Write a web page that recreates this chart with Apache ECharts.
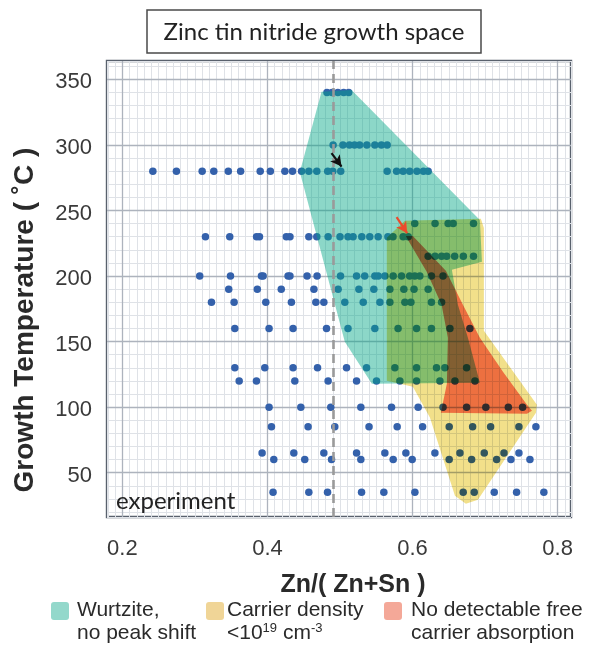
<!DOCTYPE html>
<html>
<head>
<meta charset="utf-8">
<script src="https://cdn.jsdelivr.net/npm/echarts@6/dist/echarts.min.js"></script>
<style>
  html, body { margin: 0; padding: 0; background: #fff; }
  #main { width: 591px; height: 651px; background: #fff; }
  /* overlap layers multiply like the printed figure */
  #main canvas[data-zr-dom-id="zr_2"], #main canvas[data-zr-dom-id="zr_3"] { mix-blend-mode: multiply; }
</style>
</head>
<body>
<div id="main"></div>
<script>
// growth runs: one row per temperature, Zn/(Zn+Sn) of each film
const rowTemps = [340, 300, 280, 240, 230, 215, 200, 190, 180, 160, 130, 120, 100, 85, 65, 60, 35]
const rowComps = [
  [0.482, 0.489, 0.497, 0.505, 0.512],
  [0.4905, 0.504, 0.513, 0.520, 0.527, 0.537, 0.548, 0.557, 0.565],
  [0.242, 0.2745, 0.310, 0.326, 0.346, 0.363, 0.390, 0.404, 0.424, 0.4345, 0.447, 0.457, 0.468, 0.483, 0.490, 0.501,
   0.565, 0.578, 0.587, 0.596, 0.606, 0.615, 0.6215],
  [0.603, 0.631, 0.649, 0.656, 0.684],
  [0.3145, 0.348, 0.385, 0.389, 0.426, 0.431, 0.457, 0.468, 0.4836, 0.500, 0.511, 0.518, 0.530, 0.541, 0.5526,
   0.566, 0.573, 0.587, 0.594],
  [0.6215, 0.631, 0.640, 0.647, 0.658, 0.670, 0.684],
  [0.3066, 0.349, 0.3917, 0.394, 0.4284, 0.431, 0.4546, 0.4684, 0.5007, 0.5228, 0.534, 0.548, 0.5526, 0.5618,
   0.5733, 0.5848, 0.596, 0.603, 0.610, 0.626, 0.642],
  [0.3466, 0.386, 0.419, 0.464, 0.4974, 0.526, 0.5466, 0.5687, 0.588, 0.602, 0.6215],
  [0.3228, 0.354, 0.3977, 0.433, 0.4667, 0.4777, 0.5066, 0.532, 0.555, 0.5687, 0.5894, 0.5977, 0.626, 0.640],
  [0.355, 0.4022, 0.4353, 0.4814, 0.511, 0.548, 0.580, 0.6055, 0.626, 0.6515, 0.679],
  [0.355, 0.3963, 0.4353, 0.469, 0.509, 0.5366, 0.5756, 0.6055, 0.633, 0.6445, 0.6745],
  [0.361, 0.3848, 0.4377, 0.4836, 0.5228, 0.5503, 0.5825, 0.6055, 0.6377, 0.6584, 0.686],
  [0.4022, 0.446, 0.4873, 0.5287, 0.571, 0.6077, 0.642, 0.6745, 0.701, 0.732, 0.7517],
  [0.4055, 0.456, 0.4928, 0.540, 0.5788, 0.6138, 0.6505, 0.6828, 0.7076, 0.7466, 0.770],
  [0.3926, 0.4363, 0.4777, 0.5228, 0.5618, 0.5908, 0.6308, 0.6653, 0.6988, 0.726, 0.7466],
  [0.4087, 0.4514, 0.4883, 0.5287, 0.5733, 0.5995, 0.6505, 0.6814, 0.7159, 0.7356, 0.7618],
  [0.4077, 0.457, 0.4828, 0.5297, 0.5604, 0.6032, 0.6698, 0.685, 0.7126, 0.7434, 0.781]
]

// region outlines [Zn/(Zn+Sn), T]
const wurtzite = [[0.4745, 340.6], [0.5159, 341.9], [0.6928, 242.8], [0.6956, 210.8], [0.6542, 204.7],
  [0.6625, 178.0], [0.6763, 152.9], [0.6928, 118.6], [0.5439, 117.8], [0.5066, 149.8], [0.4446, 279.4]]
const lowCarrier = [[0.5894, 242.1], [0.6942, 243.6], [0.6983, 236.7], [0.6983, 158.2], [0.7714, 101.8],
  [0.7701, 95.7], [0.6901, 29.4], [0.6735, 26.4], [0.6584, 32.5], [0.6239, 92.1], [0.6004, 115.5],
  [0.5645, 120.1], [0.5645, 229.1]]
const noFCA = [[0.5908, 230.6], [0.6004, 230.6], [0.6459, 204.0], [0.6694, 178.0], [0.6928, 152.9],
  [0.7246, 127.0], [0.7577, 101.8], [0.7646, 97.3], [0.7577, 95.0], [0.6390, 95.7], [0.6473, 117.8],
  [0.6487, 152.9], [0.6400, 178.0], [0.6193, 203.4], [0.5935, 227.6]]

const xTicks = [0.2, 0.4, 0.6, 0.8]
const yTicks = [50, 100, 150, 200, 250, 300, 350]
const stoichLine = 0.492
const blackArrow = [[0.4883, 293.7], [0.5021, 283.5]]
const redArrow = [[0.578, 244.9], [0.5926, 232.7]]

const narrow = '"Liberation Sans Narrow", "Liberation Sans", Arial, sans-serif'
const calibri = 'Lato, "Open Sans", sans-serif'

const points = []
rowTemps.forEach((t, i) => rowComps[i].forEach(x => points.push([x, t])))

const isTick = (list, v) => list.some(t => Math.abs(t - v) < 1e-6)

// each region sits on its own canvas layer (zlevel) so the layers can be blended
function region(name, pts, fill, zlevel) {
  return {
    type: 'custom',
    name: name,
    silent: true,
    zlevel: zlevel,
    data: [pts[0]],
    renderItem: (params, api) => ({
      type: 'polygon',
      shape: { points: pts.map(p => api.coord(p)) },
      style: { fill: fill }
    })
  }
}

function arrow(name, pts, color) {
  return {
    type: 'scatter', name: name, data: [], silent: true, zlevel: 4,
    markLine: {
      silent: true, zlevel: 4, z: 10, symbol: ['none', 'arrow'], symbolSize: [9, 11], label: { show: false },
      lineStyle: { color: color, width: 2.2, type: 'solid', opacity: 1 },
      itemStyle: { color: color },
      data: [[{ coord: pts[0] }, { coord: pts[1] }]]
    }
  }
}

const chartDom = document.getElementById('main')
const myChart = echarts.init(chartDom)

const option = {
  animation: false,
  grid: {
    left: 107, right: 20, top: 61, bottom: 134,
    show: true, borderColor: '#59616d', borderWidth: 2.4, backgroundColor: 'transparent'
  },
  xAxis: {
    type: 'value', min: 0.1788, max: 0.8184, splitNumber: 64,
    axisLine: { show: false }, axisTick: { show: false },
    splitLine: { show: true, lineStyle: { color: '#dfe2e7', width: 1 } },
    axisLabel: {
      interval: 0, margin: 21, fontSize: 22, color: '#3a3a3a', fontFamily: narrow,
      formatter: v => isTick(xTicks, v) ? v.toFixed(1) : ''
    }
  },
  yAxis: {
    type: 'value', min: 16.2, max: 364, splitNumber: 35,
    axisLine: { show: false }, axisTick: { show: false },
    splitLine: { show: true, lineStyle: { color: '#dfe2e7', width: 1 } },
    axisLabel: {
      interval: 0, margin: 15,
      formatter: v => isTick(yTicks, v) ? '{v|' + Math.round(v) + '}' : '',
      rich: { v: { fontSize: 22, color: '#3a3a3a', fontFamily: narrow, padding: [6, 0, 0, 0] } }
    }
  },
  series: [
    {
      type: 'scatter', name: 'grid', data: [], silent: true, z: 0,
      markLine: {
        silent: true, z: 0.5, symbol: ['none', 'none'], label: { show: false },
        lineStyle: { color: '#adb3bd', width: 1.3, type: 'solid' },
        data: xTicks.map(v => ({ xAxis: v })).concat(yTicks.map(v => ({ yAxis: v })))
      }
    },
    {
      type: 'scatter', name: 'experiment', data: points, z: 1, silent: true,
      symbolSize: 7.5, itemStyle: { color: '#3461ab', opacity: 1 }
    },
    region('Wurtzite, no peak shift', wurtzite, 'rgba(0,167,133,0.45)', 1),
    region('Carrier density', lowCarrier, 'rgb(242,224,138)', 2),
    region('No detectable free carrier absorption', noFCA, 'rgb(250,128,118)', 3),
    {
      type: 'scatter', name: 'stoichiometry', data: [], silent: true, zlevel: 4,
      markLine: {
        silent: true, zlevel: 4, symbol: ['none', 'none'], label: { show: false },
        lineStyle: { color: '#9a9a9a', width: 2.6, type: [9, 5] },
        data: [{ xAxis: stoichLine }]
      }
    },
    arrow('black arrow', blackArrow, '#111111'),
    arrow('red arrow', redArrow, '#ec4a2c')
  ],
  graphic: [
    { type: 'rect', z: -100, silent: true, shape: { x: 0, y: 0, width: 591, height: 651 }, style: { fill: '#fff' } },
    { type: 'rect', shape: { x: 147, y: 10, width: 334, height: 43 },
      style: { fill: '#fff', stroke: '#4a4a4a', lineWidth: 1.5 } },
    { type: 'text', x: 314, y: 32,
      style: { text: 'Zinc tin nitride growth space', fontSize: 24, fontFamily: calibri,
        fill: '#222', align: 'center', verticalAlign: 'middle' } },
    { type: 'text', x: 116, y: 501, z: 20,
      style: { text: 'experiment', fontSize: 24, fontFamily: calibri,
        fill: '#222', align: 'left', verticalAlign: 'middle' } },
    { type: 'text', x: 25, y: 320, rotation: Math.PI / 2,
      style: { text: 'Growth Temperature ( \u02DAC )', fontSize: 28, fontWeight: 'bold', fontFamily: narrow,
        fill: '#2a2a2a', align: 'center', verticalAlign: 'middle' } },
    { type: 'text', x: 353, y: 585,
      style: { text: 'Zn/( Zn+Sn )', fontSize: 25, fontWeight: 'bold', fontFamily: narrow,
        fill: '#2a2a2a', align: 'center', verticalAlign: 'middle' } },
    { type: 'rect', shape: { x: 51, y: 602, width: 18, height: 18, r: 3 }, style: { fill: '#93d8cb' } },
    { type: 'rect', shape: { x: 206, y: 602, width: 18, height: 18, r: 3 }, style: { fill: '#f0d597' } },
    { type: 'rect', shape: { x: 384, y: 602, width: 18, height: 18, r: 3 }, style: { fill: '#f4a898' } },
    { type: 'text', x: 77, y: 599,
      style: { text: 'Wurtzite,\nno peak shift', fontSize: 21, lineHeight: 23, fontFamily: narrow, fill: '#2a2a2a' } },
    { type: 'text', x: 227, y: 599,
      style: {
        text: '{t|Carrier density}\n{t|<10}{s|19}{t| cm}{s|-3}',
        fontFamily: narrow, fill: '#2a2a2a',
        rich: {
          t: { fontSize: 21, lineHeight: 23, fontFamily: narrow, fill: '#2a2a2a' },
          s: { fontSize: 13, lineHeight: 23, verticalAlign: 'top', fontFamily: narrow, fill: '#2a2a2a' }
        }
      } },
    { type: 'text', x: 411, y: 599,
      style: { text: 'No detectable free\ncarrier absorption', fontSize: 21, lineHeight: 23, fontFamily: narrow, fill: '#2a2a2a' } }
  ]
}

option && myChart.setOption(option)

// make sure the blended layers get their mode even if the css selector missed them
chartDom.querySelectorAll('canvas').forEach(c => {
  const id = c.getAttribute('data-zr-dom-id')
  if (id === 'zr_2' || id === 'zr_3') c.style.mixBlendMode = 'multiply'
})
</script>
</body>
</html>
